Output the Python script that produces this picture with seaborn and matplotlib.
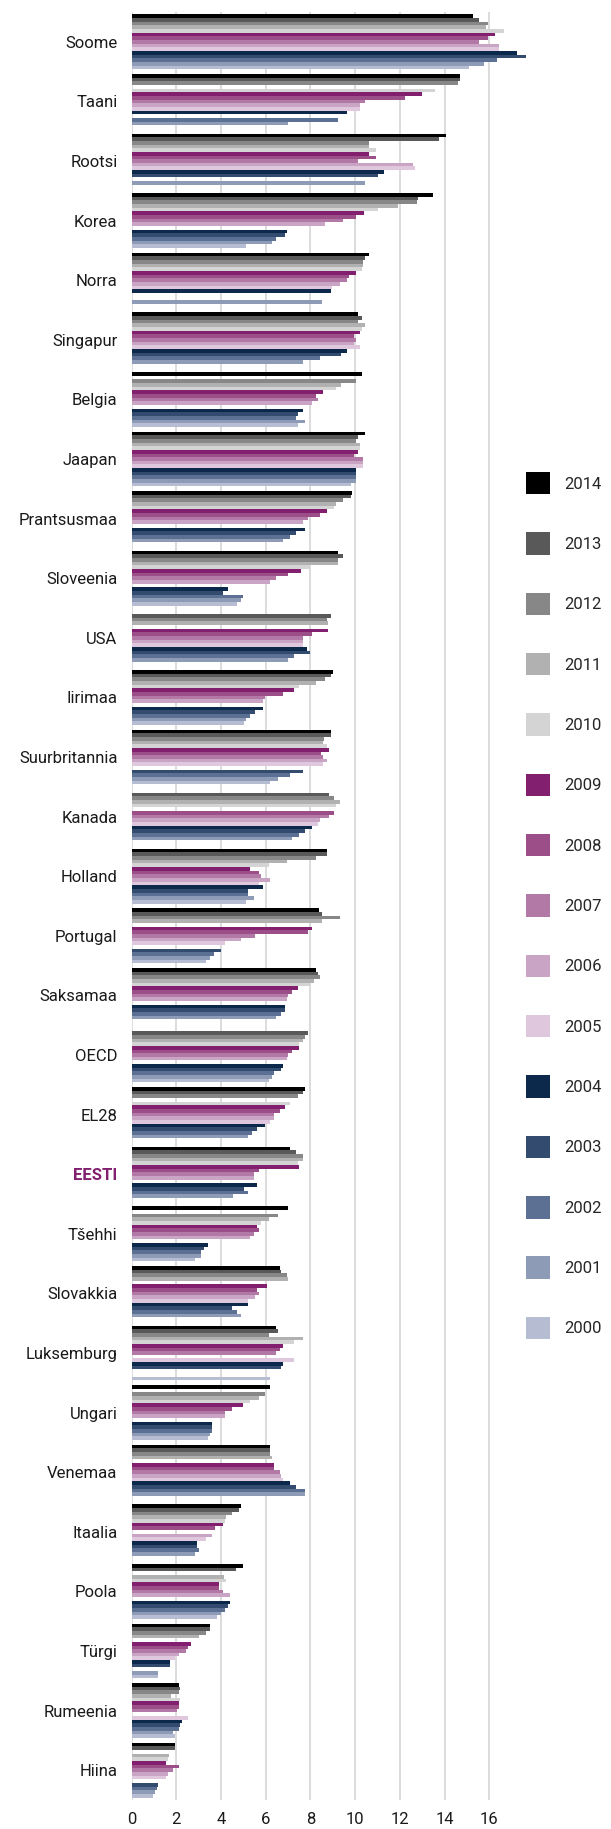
import numpy as np
import pandas as pd
import matplotlib
matplotlib.use("Agg")
import matplotlib.pyplot as plt
from matplotlib.patches import Patch
import seaborn as sns

nan = np.nan

countries = ["Soome", "Taani", "Rootsi", "Korea", "Norra", "Singapur", "Belgia", "Jaapan",
             "Prantsusmaa", "Sloveenia", "USA", "Iirimaa", "Suurbritannia", "Kanada", "Holland",
             "Portugal", "Saksamaa", "OECD", "EL28", "EESTI", "Tšehhi", "Slovakkia", "Luksemburg",
             "Ungari", "Venemaa", "Itaalia", "Poola", "Türgi", "Rumeenia", "Hiina"]

years = ["2014", "2013", "2012", "2011", "2010", "2009", "2008", "2007",
         "2006", "2005", "2004", "2003", "2002", "2001", "2000"]

# one list per year, values in the order of `countries` (nan = no bar)
y2014 = [15.28, 14.71, 14.05, 13.47, 10.61, 10.13, 10.3, 10.46, 9.88, 9.24, nan, 8.99, 8.9, nan, 8.73,
         8.4, 8.24, nan, 7.75, 7.11, 7.02, 6.62, 6.45, 6.2, 6.2, 4.89, 4.98, 3.5, 2.11, 1.95]
y2013 = [15.53, 14.71, 13.73, 12.8, 10.45, 10.3, nan, 10.13, 9.8, 9.48, 8.9, 8.9, 8.9, 8.82, 8.73,
         8.5, 8.33, 7.91, 7.67, 7.35, nan, 6.69, 6.53, nan, 6.2, 4.81, 4.67, 3.5, 2.18, 1.95]
y2012 = [15.93, 14.62, 10.61, 12.76, 10.36, 10.13, 10.04, 10.04, 9.48, 9.24, 8.73, 8.66, 8.6, 9.06, 8.24,
         9.31, 8.42, 7.75, 7.44, 7.67, 6.53, 6.95, 6.13, 5.96, 6.2, 4.49, nan, 3.33, 2.11, nan]
y2011 = [15.84, nan, 10.61, 11.92, 10.36, 10.46, 9.39, 10.2, 9.15, 9.24, 8.81, 8.24, 8.57, 9.31, 6.95,
         8.5, 8.17, 7.67, nan, 7.67, 6.13, 7.02, 7.67, 5.71, 6.29, 4.23, 4.15, 3.01, 1.78, 1.69]
y2010 = [16.65, 13.56, 10.95, 11.03, 10.3, 10.3, 9.15, 10.2, 9.06, 8.0, nan, 7.51, 8.73, 9.15, 6.13,
         nan, 8.0, 7.51, 7.11, 7.44, 5.8, nan, 7.27, 5.31, nan, 4.16, 4.23, nan, 2.18, 1.62]
y2009 = [16.26, 13.0, 10.61, 10.39, 10.04, 10.2, 8.58, 10.13, 8.73, 7.6, 8.81, 7.26, 8.82, nan, 5.31,
         8.08, 7.44, 7.51, 6.86, 7.51, 5.63, 6.04, 6.78, 4.98, 6.36, 4.07, 3.92, 2.68, 2.11, 1.53]
y2008 = [15.93, 12.25, 10.95, 10.04, 9.72, 9.96, 8.24, 9.97, 8.42, 7.02, 8.08, 6.77, 8.49, 9.06, 5.71,
         7.91, 7.18, 7.18, 6.62, 5.71, 5.71, 5.63, 6.62, 4.49, 6.36, 3.74, 3.92, 2.51, 2.11, 2.11]
y2007 = [15.54, 10.45, 10.13, 9.48, 9.64, 10.04, 8.33, 10.37, 7.91, 6.45, 7.67, 5.96, 8.57, 8.82, 5.78,
         5.54, 7.02, 7.02, 6.36, 5.47, 5.47, 5.71, 6.45, 4.16, 6.62, nan, 4.08, 2.44, 2.02, 1.85]
y2006 = [16.42, 10.2, 12.58, 8.66, 9.31, 9.96, 8.08, 10.37, 7.67, 6.2, 7.67, 5.87, 8.73, 8.42, 6.2,
         4.89, 6.95, 6.95, 6.36, 5.47, 5.31, 5.54, nan, 4.16, 6.69, 3.59, 4.41, 2.11, nan, 1.62]
y2005 = [16.42, 10.2, 12.67, nan, 8.97, 10.2, nan, 10.37, nan, nan, 7.67, nan, 8.57, 8.33, 5.71,
         4.16, nan, nan, 6.2, nan, nan, 5.22, 7.27, nan, 6.78, 3.34, nan, 1.95, 2.51, 1.53]
y2004 = [17.23, 9.64, 11.28, 6.96, 8.91, 9.64, 7.67, 10.04, 7.75, 4.32, 7.84, 5.87, nan, 8.08, 5.87,
         nan, 6.86, 6.78, 5.96, 5.63, 3.43, 5.22, 6.78, 3.59, 7.11, 2.92, 4.41, 1.71, 2.26, nan]
y2003 = [17.63, nan, 11.03, 6.87, nan, 9.39, 7.44, 10.04, 7.35, 4.08, 8.0, 5.54, 7.67, 7.75, 5.22,
         3.99, 6.86, 6.69, 5.63, 5.05, 3.26, 4.49, 6.69, 3.59, 7.35, 2.92, 4.32, 1.71, 2.18, 1.2]
y2002 = [16.33, 9.22, nan, 6.45, nan, 8.42, 7.35, 10.04, 7.11, 4.98, 7.26, 5.31, 7.11, 7.51, 5.22,
         3.67, 6.69, 6.36, 5.38, 5.22, 3.1, 4.72, nan, 3.59, 7.75, 3.01, 4.16, nan, 2.11, 1.13]
y2001 = [15.77, 7.02, 10.45, 6.29, 8.5, 7.67, 7.75, 10.04, 6.77, 4.89, 7.02, 5.14, 6.53, 7.18, 5.47,
         3.5, 6.45, 6.29, 5.22, 4.56, 3.1, 4.89, nan, 3.5, 7.75, 2.85, 3.99, 1.2, 1.85, 1.03]
y2000 = [15.11, nan, nan, 5.14, nan, nan, 7.44, 9.8, nan, 4.72, nan, 5.05, 6.2, nan, 5.14,
         3.34, nan, 6.13, nan, nan, 2.85, nan, 6.2, 3.43, nan, nan, 3.83, 1.2, 1.95, 0.98]

series = [y2014, y2013, y2012, y2011, y2010, y2009, y2008, y2007,
          y2006, y2005, y2004, y2003, y2002, y2001, y2000]

colors = ["#000000", "#595959", "#878787", "#b1b1b1", "#d4d4d4",
          "#82206f", "#9c4e88", "#b279a7", "#c9a4c5", "#dfc7dd",
          "#0c294b", "#334b6e", "#5c7093", "#8e9bb6", "#b6bdd2"]

rows = []
for yr, vals in zip(years, series):
    for c, v in zip(countries, vals):
        if not np.isnan(v):
            rows.append({"Riik": c, "Aasta": yr, "Väärtus": v})
df = pd.DataFrame(rows)

sns.set_theme(style="white")
plt.rcParams["font.family"] = ["Roboto", "DejaVu Sans"]

W, H = 611, 1829
fig = plt.figure(figsize=(W / 100, H / 100), dpi=100)
ax = fig.add_axes([131.5 / W, 1 - 1800 / H, 18 * 22.36 / W, (1800 - 12) / H])

sns.barplot(
    data=df, y="Riik", x="Väärtus", hue="Aasta",
    order=countries, hue_order=years, palette=colors,
    orient="h", width=0.92, saturation=1, errorbar=None,
    linewidth=0, legend=False, ax=ax,
)

ax.set_xlim(0, 18)
ax.set_ylim(len(countries) - 0.5, -0.5)
ax.set_xticks(range(0, 17, 2))
ax.xaxis.grid(True, color="#d9d9d9", linewidth=1.3)
ax.set_axisbelow(True)
for s in ax.spines.values():
    s.set_visible(False)
ax.set_xlabel("")
ax.set_ylabel("")
ax.tick_params(axis="x", length=0, pad=9, labelsize=12, labelcolor="#1a1a1a")
ax.tick_params(axis="y", length=0, pad=10, labelsize=12, labelcolor="#1a1a1a")

for lab in ax.get_yticklabels():
    if lab.get_text() == "EESTI":
        lab.set_fontweight("bold")
        lab.set_color("#82206f")

handles = [Patch(facecolor=c, edgecolor="none", label=y) for c, y in zip(colors, years)]
fig.legend(
    handles=handles, loc="upper left", bbox_to_anchor=(526 / W, 1 - 472 / H),
    frameon=False, fontsize=12, handlelength=1.45, handleheight=1.7,
    labelspacing=2.27, handletextpad=0.85, borderpad=0, borderaxespad=0,
)

fig.savefig("out.png", dpi=100)
